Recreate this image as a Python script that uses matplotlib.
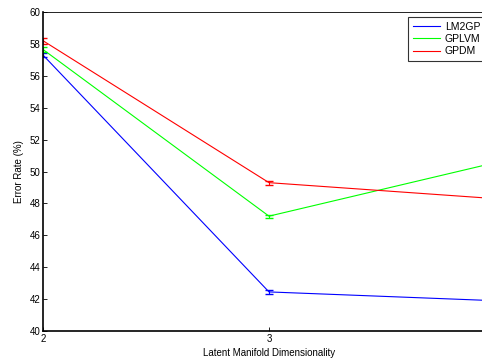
import numpy as np
import matplotlib
matplotlib.use('Agg')
import matplotlib.pyplot as plt
from matplotlib.lines import Line2D

plt.rcParams['font.family'] = ['Liberation Sans', 'DejaVu Sans']

# latent dimensionality and error rates (%)
dims = [2, 3, 4]
dim_labels = ['2', '3', '']  # the tick at 4 falls outside the cropped picture
lm2gp = [57.3, 42.45, 41.9]
gplvm = [57.65, 47.2, 50.55]
gpdm = [58.2, 49.3, 48.3]
lm2gp_err = [0.15, 0.1, 0.1]
gplvm_err = [0.15, 0.1, 0.1]
gpdm_err = [0.2, 0.12, 0.1]
names = ['LM2GP', 'GPLVM', 'GPDM']
colors = [(0, 0, 1), (0, 1, 0), (1, 0, 0)]

fig = plt.figure(figsize=(4.82, 3.58), dpi=100)
# axes run past the right edge of the figure, as in the cropped original
ax = fig.add_axes([43/482, 27/358, 452/482, 319/358])

for y, e, c in zip([lm2gp, gplvm, gpdm], [lm2gp_err, gplvm_err, gpdm_err], colors):
    ax.errorbar(dims, y, yerr=e, color=c, lw=0.8, capsize=3, elinewidth=0.8)

ax.set_xlim(2, 4)
ax.set_ylim(40, 60)
ax.set_xticks(dims)
ax.set_xticklabels(dim_labels)
ax.set_yticks(np.arange(40, 61, 2))
ax.tick_params(direction='in', length=3, width=0.6, labelsize=7, pad=2)
for s in ax.spines.values():
    s.set_linewidth(0.6)
ax.spines['left'].set_linewidth(1.2)
ax.spines['bottom'].set_linewidth(1.2)

ax.set_xlabel('Latent Manifold Dimensionality', fontsize=7, labelpad=3)
ax.set_ylabel('Error Rate (%)', fontsize=7, labelpad=4)

handles = [Line2D([], [], color=c, lw=0.8) for c in colors]
leg = ax.legend(handles, names, loc='upper left', bbox_to_anchor=(0.808, 0.984), fontsize=7.5,
                frameon=True, fancybox=False, edgecolor='black', handlelength=2.6,
                handletextpad=0.45, borderpad=0.45, labelspacing=0.22, borderaxespad=0)
leg.get_frame().set_linewidth(0.8)

fig.savefig('out.png', dpi=100)
